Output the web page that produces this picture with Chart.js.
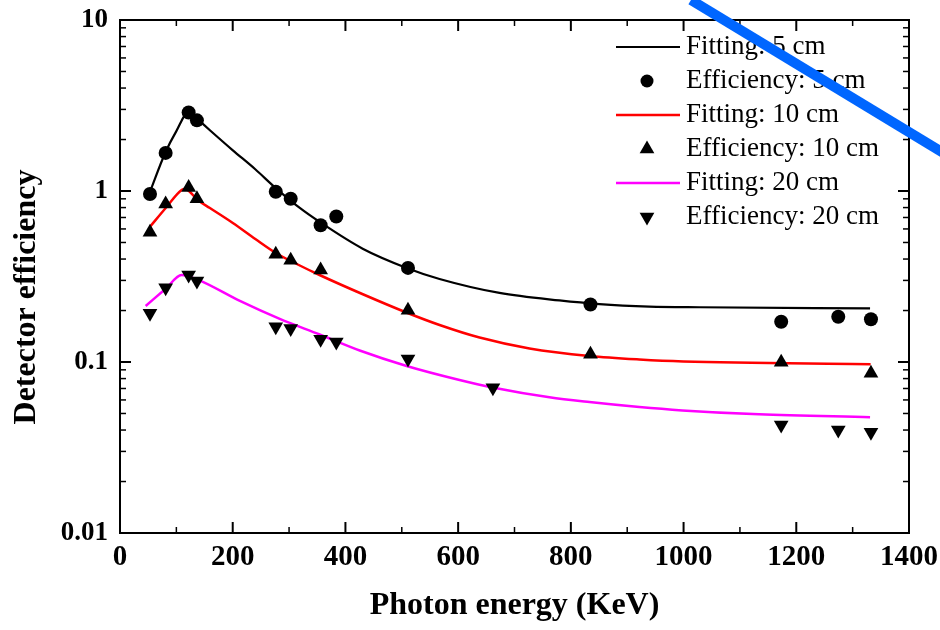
<!DOCTYPE html>
<html>
<head>
<meta charset="utf-8">
<script src="https://cdn.jsdelivr.net/npm/chart.js"></script>
<style>
  html, body { margin: 0; padding: 0; background: #fff; }
  #wrap { width: 940px; height: 630px; }
</style>
</head>
<body>
<div id="wrap"><canvas id="effChart"></canvas></div>
<script>
// measured efficiencies (photon energy in keV)
const energy5 = [53.2, 81, 121.8, 136.5, 276.4, 302.9, 356, 383.8, 511, 834.8, 1173.2, 1274.5, 1332.5];
const eff5 = [0.96, 1.67, 2.88, 2.59, 0.99, 0.90, 0.63, 0.71, 0.355, 0.217, 0.172, 0.184, 0.178];
const energy10 = [53.2, 81, 121.8, 136.5, 276.4, 302.9, 356, 511, 834.8, 1173.2, 1332.5];
const eff10 = [0.573, 0.839, 1.05, 0.90, 0.427, 0.394, 0.345, 0.201, 0.111, 0.0995, 0.086];
const energy20 = [53.2, 81, 121.8, 136.5, 276.4, 302.9, 356, 383.8, 511, 661.7, 1173.2, 1274.5, 1332.5];
const eff20 = [0.193, 0.272, 0.323, 0.298, 0.161, 0.157, 0.136, 0.131, 0.104, 0.0708, 0.0428, 0.040, 0.0388];

// fitted curves
const fitEnergy5 = [53, 80.3, 100, 122.3, 136.5, 160, 200.2, 240, 276.4, 319, 354.4, 430.6, 508.6, 567, 673.4, 779.7, 850.6, 939.2, 1027.8, 1330.9];
const fit5 = [0.986, 1.675, 2.24, 2.91, 2.65, 2.26, 1.73, 1.34, 1.04, 0.796, 0.659, 0.460, 0.355, 0.306, 0.2535, 0.229, 0.218, 0.211, 0.209, 0.206];
const fitEnergy10 = [53.2, 81.5, 109.3, 115.2, 138.9, 159.5, 200.2, 240.1, 278, 315.4, 354.1, 429.9, 508.1, 567.1, 638, 726.6, 832.9, 921.5, 999.5, 1331.9];
const fit10 = [0.618, 0.798, 1.013, 1.027, 0.880, 0.795, 0.650, 0.524, 0.431, 0.3717, 0.3227, 0.2498, 0.1948, 0.1646, 0.139, 0.120, 0.1084, 0.1034, 0.1007, 0.0971];
const fitEnergy20 = [45.5, 81.5, 109.3, 138.8, 212.7, 283.5, 354.4, 425.3, 508.6, 602.5, 661, 762, 833, 921.5, 997.7, 1134, 1330.9];
const fit20 = [0.2126, 0.269, 0.323, 0.302, 0.2275, 0.1786, 0.1448, 0.1167, 0.0948, 0.0785, 0.0710, 0.0622, 0.0583, 0.0545, 0.0521, 0.0494, 0.0476];

const seriesLabels = ['Fitting: 5 cm', 'Efficiency: 5 cm', 'Fitting: 10 cm', 'Efficiency: 10 cm', 'Fitting: 20 cm', 'Efficiency: 20 cm'];

const xMin = 0, xMax = 1400, xStep = 200;
const yTickValues = [0.01, 0.1, 1, 10];
const yTickLabels = ['0.01', '0.1', '1', '10'];

const serif = '"Liberation Serif", "Times New Roman", serif';
const pts = (xs, ys) => xs.map((x, i) => ({ x: x, y: ys[i] }));

const fitLine = (label, xs, ys, color, w) => ({
    label: label,
    data: pts(xs, ys),
    showLine: true,
    borderColor: color,
    borderWidth: w,
    pointRadius: 0,
    cubicInterpolationMode: 'monotone',
    order: 1
});
const marks = (label, xs, ys, style, r, rot) => ({
    label: label,
    data: pts(xs, ys),
    showLine: false,
    pointStyle: style,
    pointRadius: r,
    pointHoverRadius: r,
    rotation: rot,
    backgroundColor: '#000',
    borderWidth: 0,
    order: 0
});

// frame with inward ticks on all four sides, plus axis titles
const frameTicks = {
    id: 'frameTicks',
    afterDatasetsDraw(chart) {
        const { ctx, chartArea: a, scales: { x, y } } = chart;
        ctx.save();
        ctx.strokeStyle = '#000';
        const tick = (x1, y1, x2, y2, w) => {
            ctx.lineWidth = w;
            ctx.beginPath(); ctx.moveTo(x1, y1); ctx.lineTo(x2, y2); ctx.stroke();
        };
        for (let v = xMin; v <= xMax; v += xStep / 2) {
            const px = x.getPixelForValue(v);
            const major = v % xStep === 0;
            const len = major ? 11 : 6;
            tick(px, a.bottom, px, a.bottom - len, major ? 2 : 1.5);
            tick(px, a.top, px, a.top + len, major ? 2 : 1.5);
        }
        for (let d = -2; d <= 0; d++) {
            for (let m = 1; m <= 10; m++) {
                const v = m * Math.pow(10, d);
                const py = y.getPixelForValue(v);
                const major = m === 1 || m === 10;
                const len = major ? 11 : 6;
                tick(a.left, py, a.left + len, py, major ? 2 : 1.5);
                tick(a.right, py, a.right - len, py, major ? 2 : 1.5);
            }
        }
        ctx.lineWidth = 2;
        ctx.strokeRect(a.left, a.top, a.right - a.left, a.bottom - a.top);

        ctx.fillStyle = '#000';
        ctx.font = 'bold 32px ' + serif;
        ctx.textAlign = 'center';
        ctx.textBaseline = 'middle';
        ctx.fillText('Photon energy (KeV)', (a.left + a.right) / 2, 606);
        ctx.translate(27, 297);
        ctx.rotate(-Math.PI / 2);
        ctx.fillText('Detector efficiency', 0, 0);
        ctx.restore();
    }
};

// legend inside the plot, top right
const boxLegend = {
    id: 'boxLegend',
    afterDraw(chart) {
        const ctx = chart.ctx;
        ctx.save();
        ctx.font = '27px ' + serif;
        ctx.textBaseline = 'middle';
        ctx.textAlign = 'left';
        chart.data.datasets.forEach((ds, i) => {
            const yy = 47 + i * 34;
            if (ds.showLine) {
                ctx.strokeStyle = ds.borderColor;
                ctx.lineWidth = ds.borderWidth;
                ctx.beginPath(); ctx.moveTo(616, yy); ctx.lineTo(680, yy); ctx.stroke();
            } else {
                ctx.fillStyle = '#000';
                ctx.beginPath();
                if (ds.pointStyle === 'circle') {
                    ctx.arc(647, yy, 6.5, 0, Math.PI * 2);
                } else {
                    const r = 8.5, dir = ds.rotation ? -1 : 1;
                    ctx.moveTo(647, yy - dir * r);
                    ctx.lineTo(647 + r * 0.866, yy + dir * r / 2);
                    ctx.lineTo(647 - r * 0.866, yy + dir * r / 2);
                    ctx.closePath();
                }
                ctx.fill();
            }
            ctx.fillStyle = '#000';
            ctx.fillText(ds.label, 686, yy);
        });
        // stray blue stroke over the figure
        ctx.strokeStyle = '#0066ff';
        ctx.lineWidth = 10;
        ctx.beginPath(); ctx.moveTo(691, 0); ctx.lineTo(945, 154); ctx.stroke();
        ctx.restore();
    }
};

const noOverflow = (s) => {
    s.paddingTop = 0; s.paddingBottom = 0; s.paddingLeft = 0; s.paddingRight = 0;
};

new Chart(document.getElementById('effChart'), {
    type: 'scatter',
    data: {
        datasets: [
            fitLine(seriesLabels[0], fitEnergy5, fit5, '#000000', 2.2),
            marks(seriesLabels[1], energy5, eff5, 'circle', 7, 0),
            fitLine(seriesLabels[2], fitEnergy10, fit10, '#ff0000', 2.5),
            marks(seriesLabels[3], energy10, eff10, 'triangle', 8.5, 0),
            fitLine(seriesLabels[4], fitEnergy20, fit20, '#ff00ff', 2.5),
            marks(seriesLabels[5], energy20, eff20, 'triangle', 8.5, 180)
        ]
    },
    options: {
        responsive: true,
        maintainAspectRatio: false,
        animation: false,
        layout: { padding: { top: 20, right: 31, left: 0, bottom: 0 } },
        plugins: {
            legend: { display: false },
            tooltip: { enabled: false }
        },
        scales: {
            x: {
                type: 'linear',
                min: xMin,
                max: xMax,
                grid: { display: false, drawTicks: false },
                border: { display: false },
                ticks: {
                    stepSize: xStep,
                    padding: 7,
                    color: '#000',
                    font: { family: serif, size: 29, weight: 'bold' },
                    callback: (value) => String(value)
                },
                afterFit: (s) => { s.height = 97; noOverflow(s); }
            },
            y: {
                type: 'logarithmic',
                min: 0.01,
                max: 10,
                grid: { display: false, drawTicks: false },
                border: { display: false },
                afterBuildTicks: (s) => { s.ticks = yTickValues.map(v => ({ value: v })); },
                ticks: {
                    autoSkip: false,
                    padding: 12,
                    color: '#000',
                    font: { family: serif, size: 27, weight: 'bold' },
                    callback: (value, index) => yTickLabels[index]
                },
                afterFit: (s) => { s.width = 120; noOverflow(s); }
            }
        }
    },
    plugins: [frameTicks, boxLegend]
});
</script>
</body>
</html>
